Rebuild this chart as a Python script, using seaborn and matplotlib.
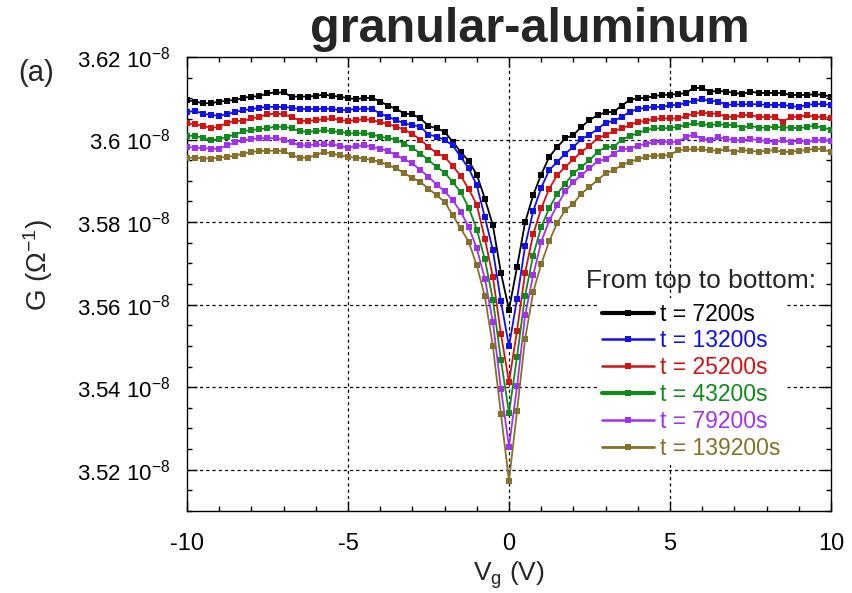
import numpy as np
import pandas as pd
import matplotlib
matplotlib.use("Agg")
import matplotlib.pyplot as plt
import seaborn as sns
from matplotlib.lines import Line2D
from matplotlib.ticker import MultipleLocator, FuncFormatter

# gate voltage sweep (V), 0.25 V steps
vg = np.arange(-10, 10.001, 0.25)

# conductance G in units of 1e-8 Ohm^-1
g_7200 = [3.6096, 3.6092, 3.6088, 3.6088, 3.6092, 3.6094, 3.6096, 3.6101, 3.6104, 3.6105, 3.6112,
          3.6114, 3.6114, 3.6104, 3.6104, 3.6104, 3.6106, 3.6109, 3.6106, 3.6104, 3.6100,
          3.6098, 3.6101, 3.6101, 3.6092, 3.6082, 3.6074, 3.6063, 3.6061, 3.6051, 3.6033,
          3.6027, 3.6019, 3.5995, 3.5970, 3.5948, 3.5915, 3.5857, 3.5792, 3.5677, 3.5588,
          3.5691, 3.5799, 3.5865, 3.5915, 3.5958, 3.5982, 3.6003, 3.6011, 3.6031, 3.6047,
          3.6059, 3.6066, 3.6067, 3.6082, 3.6096, 3.6100, 3.6101, 3.6105, 3.6108, 3.6109,
          3.6110, 3.6113, 3.6126, 3.6124, 3.6116, 3.6118, 3.6116, 3.6113, 3.6110, 3.6116,
          3.6113, 3.6113, 3.6113, 3.6112, 3.6108, 3.6108, 3.6108, 3.6110, 3.6108, 3.6104]
g_13200 = [3.6067, 3.6069, 3.6063, 3.6059, 3.6058, 3.6061, 3.6067, 3.6071, 3.6074, 3.6077, 3.6079,
           3.6079, 3.6079, 3.6077, 3.6074, 3.6074, 3.6074, 3.6075, 3.6074, 3.6071, 3.6072,
           3.6074, 3.6075, 3.6074, 3.6063, 3.6055, 3.6047, 3.6039, 3.6035, 3.6031, 3.6012,
           3.6007, 3.5999, 3.5986, 3.5958, 3.5930, 3.5889, 3.5812, 3.5732, 3.5608, 3.5499,
           3.5614, 3.5742, 3.5826, 3.5883, 3.5926, 3.5946, 3.5966, 3.5982, 3.6001, 3.6012,
           3.6025, 3.6041, 3.6045, 3.6055, 3.6067, 3.6074, 3.6077, 3.6079, 3.6079, 3.6083,
           3.6084, 3.6089, 3.6094, 3.6097, 3.6094, 3.6092, 3.6084, 3.6085, 3.6085, 3.6086,
           3.6085, 3.6084, 3.6084, 3.6084, 3.6081, 3.6079, 3.6084, 3.6086, 3.6086, 3.6084]
g_25200 = [3.6039, 3.6037, 3.6033, 3.6028, 3.6031, 3.6041, 3.6045, 3.6045, 3.6051, 3.6055, 3.6061,
           3.6063, 3.6061, 3.6055, 3.6045, 3.6045, 3.6047, 3.6049, 3.6051, 3.6047, 3.6045,
           3.6047, 3.6049, 3.6047, 3.6042, 3.6037, 3.6031, 3.6024, 3.6013, 3.6000, 3.5982,
           3.5968, 3.5958, 3.5936, 3.5912, 3.5880, 3.5842, 3.5760, 3.5667, 3.5529, 3.5412,
           3.5537, 3.5677, 3.5770, 3.5833, 3.5881, 3.5914, 3.5934, 3.5952, 3.5970, 3.5985,
           3.6003, 3.6011, 3.6020, 3.6027, 3.6035, 3.6043, 3.6045, 3.6050, 3.6051, 3.6051,
           3.6051, 3.6057, 3.6063, 3.6065, 3.6063, 3.6062, 3.6055, 3.6055, 3.6059, 3.6059,
           3.6055, 3.6055, 3.6055, 3.6043, 3.6055, 3.6055, 3.6059, 3.6055, 3.6055, 3.6051]
g_43200 = [3.6009, 3.6009, 3.6004, 3.5999, 3.6001, 3.6007, 3.6012, 3.6020, 3.6023, 3.6025, 3.6028,
           3.6031, 3.6031, 3.6027, 3.6020, 3.6019, 3.6020, 3.6023, 3.6020, 3.6019, 3.6015,
           3.6015, 3.6015, 3.6012, 3.6007, 3.6003, 3.5999, 3.5990, 3.5980, 3.5966, 3.5950,
           3.5934, 3.5920, 3.5897, 3.5873, 3.5835, 3.5782, 3.5710, 3.5612, 3.5466, 3.5337,
           3.5474, 3.5622, 3.5719, 3.5788, 3.5834, 3.5869, 3.5893, 3.5918, 3.5934, 3.5950,
           3.5970, 3.5982, 3.5982, 3.5999, 3.6009, 3.6015, 3.6023, 3.6027, 3.6027, 3.6028,
           3.6031, 3.6035, 3.6039, 3.6037, 3.6035, 3.6037, 3.6035, 3.6035, 3.6029, 3.6033,
           3.6029, 3.6029, 3.6031, 3.6029, 3.6029, 3.6027, 3.6031, 3.6033, 3.6029, 3.6024]
g_79200 = [3.5982, 3.5980, 3.5980, 3.5977, 3.5978, 3.5986, 3.5993, 3.5999, 3.6001, 3.6003, 3.6004,
           3.6003, 3.5999, 3.5993, 3.5986, 3.5986, 3.5988, 3.5988, 3.5988, 3.5985, 3.5980,
           3.5984, 3.5986, 3.5982, 3.5978, 3.5972, 3.5962, 3.5952, 3.5942, 3.5926, 3.5910,
           3.5891, 3.5875, 3.5853, 3.5825, 3.5788, 3.5736, 3.5663, 3.5558, 3.5396, 3.5256,
           3.5402, 3.5574, 3.5671, 3.5752, 3.5804, 3.5841, 3.5875, 3.5897, 3.5914, 3.5930,
           3.5948, 3.5952, 3.5966, 3.5977, 3.5978, 3.5985, 3.5990, 3.5993, 3.5994, 3.5994,
           3.5994, 3.6007, 3.6011, 3.6002, 3.6000, 3.6005, 3.6002, 3.5998, 3.5998, 3.6002,
           3.5998, 3.5997, 3.5994, 3.5998, 3.5994, 3.5997, 3.5994, 3.5998, 3.5998, 3.5997]
g_139200 = [3.5956, 3.5956, 3.5954, 3.5954, 3.5956, 3.5958, 3.5961, 3.5966, 3.5970, 3.5972, 3.5973,
            3.5973, 3.5972, 3.5962, 3.5956, 3.5956, 3.5962, 3.5970, 3.5966, 3.5962, 3.5958,
            3.5956, 3.5954, 3.5950, 3.5946, 3.5938, 3.5930, 3.5918, 3.5907, 3.5897, 3.5881,
            3.5865, 3.5849, 3.5817, 3.5785, 3.5752, 3.5695, 3.5620, 3.5499, 3.5335, 3.5173,
            3.5342, 3.5517, 3.5630, 3.5698, 3.5754, 3.5798, 3.5829, 3.5845, 3.5869, 3.5885,
            3.5902, 3.5918, 3.5926, 3.5938, 3.5946, 3.5952, 3.5958, 3.5961, 3.5961, 3.5962,
            3.5974, 3.5976, 3.5976, 3.5976, 3.5974, 3.5973, 3.5976, 3.5970, 3.5974, 3.5973,
            3.5970, 3.5973, 3.5974, 3.5970, 3.5970, 3.5973, 3.5974, 3.5978, 3.5976, 3.5970]

labels = ["t = 7200s", "t = 13200s", "t = 25200s", "t = 43200s", "t = 79200s", "t = 139200s"]
series = [g_7200, g_13200, g_25200, g_43200, g_79200, g_139200]
colors = ["#000000", "#1010e8", "#d01414", "#108a1c", "#a032ee", "#86712a"]
legend_lw = [3.0, 1.8, 1.8, 3.0, 1.8, 2.0]

frames = []
for lab, g in zip(labels, series):
    frames.append(pd.DataFrame({"vg": vg, "G": g, "run": lab}))
df = pd.concat(frames, ignore_index=True)

sns.set_style("ticks")
plt.rcParams['font.family'] = ['Liberation Sans', 'DejaVu Sans']
plt.rcParams['mathtext.default'] = 'regular'
plt.rcParams['axes.unicode_minus'] = False

fig = plt.figure(figsize=(8.53, 5.93), dpi=100)
ax = fig.add_axes([0.2192, 0.1383, 0.755, 0.7656])

sns.lineplot(data=df, x="vg", y="G", hue="run", hue_order=labels,
             palette=dict(zip(labels, colors)), estimator=None, sort=False,
             marker="s", markersize=4, markeredgewidth=0, linewidth=1.3,
             legend=False, ax=ax, zorder=3)

ax.set_xlim(-10, 10)
ax.set_ylim(3.51, 3.62)
ax.xaxis.set_major_locator(MultipleLocator(5))
ax.xaxis.set_minor_locator(MultipleLocator(1))
ax.yaxis.set_major_locator(MultipleLocator(0.02))
ax.yaxis.set_minor_locator(MultipleLocator(0.005))
ax.yaxis.set_major_formatter(FuncFormatter(lambda v, p: f"{round(v, 2):g} $10^{{-8}}$"))
ax.xaxis.set_major_formatter(FuncFormatter(lambda v, p: f"{v:g}"))

ax.tick_params(which='both', direction='in', top=True, right=True, colors='black')
ax.tick_params(which='major', length=7, width=1)
ax.tick_params(which='minor', length=3.5, width=1)
ax.tick_params(axis='x', labelsize=17, pad=16)
ax.tick_params(axis='y', labelsize=16, pad=12)
for s in ax.spines.values():
    s.set_color('black')
    s.set_linewidth(1)

# dotted grid at the inner major ticks
for x in [-5, 0, 5]:
    ax.axvline(x, color='black', lw=0.9, ls=(0, (2.5, 2.5)), zorder=1)
for y in [3.52, 3.54, 3.56, 3.58, 3.60]:
    ax.axhline(y, color='black', lw=0.9, ls=(0, (2.5, 2.5)), zorder=1)

ax.set_xlabel("V$_g$ (V)", fontsize=19, labelpad=3)
ax.set_ylabel("G (Ω$^{-1}$)", fontsize=20)
ax.yaxis.set_label_coords(-0.205, 0.542)

fig.text(0.621, 0.929, "granular-aluminum", fontsize=35, fontweight='bold',
         ha='center', va='baseline')
fig.text(0.021, 0.863, "(a)", fontsize=21, va='baseline')

handles = [Line2D([], [], color=c, lw=lw, marker='s', markersize=4, markeredgewidth=0)
           for c, lw in zip(colors, legend_lw)]
fig.text(586 / 853, 1 - 288 / 593, "From top to bottom:", fontsize=19, va='baseline')
leg = ax.legend(handles, labels, loc='center left', bbox_to_anchor=(0.6865, 0.357),
                bbox_transform=fig.transFigure, fontsize=16.5, frameon=True,
                facecolor='white', edgecolor='none', framealpha=1, borderpad=0.2,
                labelspacing=0.17, handlelength=2.3, handletextpad=0.25,
                numpoints=1, fancybox=False)
leg.set_zorder(5)
for t, c in zip(leg.get_texts(), colors):
    t.set_color(c)

fig.savefig("out.png", dpi=100)
